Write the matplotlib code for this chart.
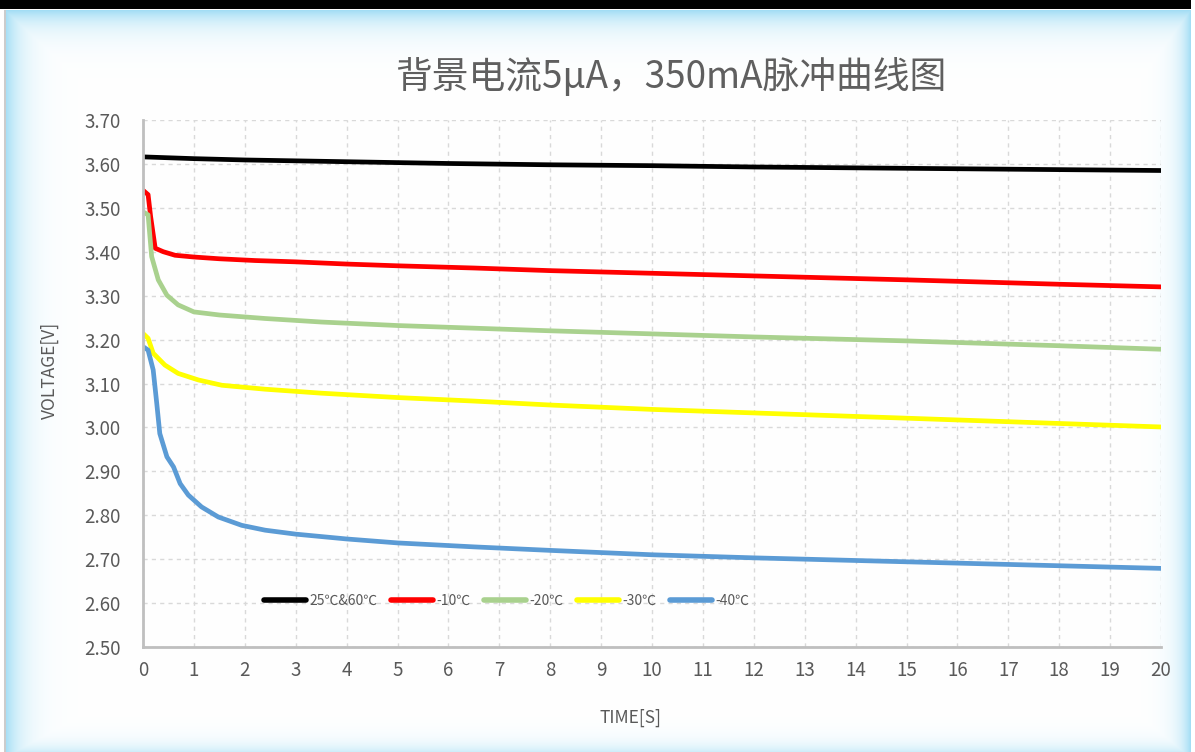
import numpy as np
import matplotlib
matplotlib.use("Agg")
import matplotlib.pyplot as plt

plt.rcParams['font.family'] = ['Noto Sans CJK SC', 'DejaVu Sans']

title = "背景电流5μA，350mA脉冲曲线图"
xlabel = "TIME[S]"
ylabel = "VOLTAGE[V]"

labels = ["25℃&60℃", "-10℃", "-20℃", "-30℃", "-40℃"]
colors = ["#000000", "#ff0000", "#a9d18e", "#ffff00", "#5b9bd5"]

t_black = [0, 1, 2, 4, 6, 8, 10, 12, 15, 18, 20]
v_black = [3.616, 3.612, 3.609, 3.605, 3.601, 3.598, 3.596, 3.593, 3.590, 3.587, 3.585]

t_red = [0, 0.1, 0.15, 0.24, 0.4, 0.63, 1, 1.5, 2.2, 3, 4, 5, 6.5, 8, 10, 12, 15, 18, 20]
v_red = [3.540, 3.530, 3.480, 3.408, 3.400, 3.392, 3.388, 3.384, 3.380, 3.377, 3.372,
         3.368, 3.363, 3.357, 3.351, 3.345, 3.336, 3.326, 3.320]

t_green = [0, 0.1, 0.17, 0.3, 0.47, 0.69, 1.0, 1.5, 2.4, 3.5, 5, 6.5, 8, 10, 12, 15, 18, 20]
v_green = [3.491, 3.484, 3.389, 3.336, 3.301, 3.279, 3.263, 3.256, 3.248, 3.240, 3.232,
           3.226, 3.220, 3.213, 3.206, 3.197, 3.186, 3.178]

t_yellow = [0, 0.1, 0.2, 0.43, 0.69, 1.09, 1.55, 2.4, 3.5, 5, 6.5, 8, 10, 12, 15, 18, 20]
v_yellow = [3.214, 3.203, 3.169, 3.142, 3.123, 3.108, 3.096, 3.087, 3.078, 3.068, 3.060,
            3.051, 3.041, 3.033, 3.021, 3.009, 3.001]

t_blue = [0, 0.1, 0.2, 0.27, 0.33, 0.47, 0.6, 0.73, 0.89, 1.15, 1.48, 1.94, 2.4, 3, 4, 5,
          6.5, 8, 10, 12, 15, 18, 20]
v_blue = [3.184, 3.176, 3.131, 3.055, 2.986, 2.933, 2.910, 2.872, 2.846, 2.819, 2.796,
          2.777, 2.766, 2.757, 2.746, 2.737, 2.728, 2.720, 2.710, 2.703, 2.694, 2.685, 2.679]

series_t = [t_black, t_red, t_green, t_yellow, t_blue]
series_v = [v_black, v_red, v_green, v_yellow, v_blue]

x_ticks = list(range(0, 21))
y_ticks = [2.50, 2.60, 2.70, 2.80, 2.90, 3.00, 3.10, 3.20, 3.30, 3.40, 3.50, 3.60, 3.70]

W, H = 1195, 752
fig = plt.figure(figsize=(W / 100, H / 100), dpi=100)

# background frame with light-blue glow
bg = fig.add_axes([0, 0, 1, 1], zorder=-10)
bg.axis('off')
yy, xx = np.mgrid[0:H, 0:W]
x0, x1, y0, y1 = 5, 1190, 10, 757
dl = (xx - x0) / 16.0
dr = (x1 - xx) / 11.0
dt = (yy - y0) / 15.0
db = (y1 - yy) / 9.0
d = np.minimum(np.minimum(dl, dr), np.minimum(dt, db))
a = np.exp(-np.clip(d, 0, None))
edge = np.array([0.64, 0.87, 0.96])
img = np.ones((H, W, 3))
img = img * (1 - a[..., None]) + edge * a[..., None]
inside = (xx >= x0) & (xx <= x1) & (yy >= y0)
img[~inside] = 1.0
img[(xx >= x0 - 1) & (xx <= x0) & (yy >= y0)] = [0.80, 0.80, 0.80]
img[0:9, 0:1191] = 0.0
bg.imshow(img, extent=[0, 1, 0, 1], aspect='auto', interpolation='bilinear')

ax = fig.add_axes([143 / W, 1 - 647 / H, (1161 - 143) / W, (647 - 120) / H])
ax.set_facecolor('none')

for t, v, c, lab in zip(series_t, series_v, colors, labels):
    ax.plot(t, v, color=c, lw=3.4, label=lab, solid_capstyle='round', solid_joinstyle='round')

ax.set_xlim(0, 20)
ax.set_ylim(2.50, 3.70)
ax.set_xticks(x_ticks)
ax.set_yticks(y_ticks)
ax.set_yticklabels([f"{v:.2f}" for v in y_ticks])
ax.tick_params(axis='both', length=0, labelsize=13.5, labelcolor='#595959')
ax.tick_params(axis='x', pad=9)
ax.tick_params(axis='y', pad=16)
ax.grid(True, color='#d9d9d9', ls=(0, (3, 3)), lw=1)
ax.set_axisbelow(True)
for s in ['top', 'right']:
    ax.spines[s].set_visible(False)
for s in ['left', 'bottom']:
    ax.spines[s].set_color('#bfbfbf')
    ax.spines[s].set_linewidth(2)

fig.text(631 / W, 1 - 718 / H, xlabel, ha='center', va='center', fontsize=12.5, color='#595959')
fig.text(50 / W, 1 - 370 / H, ylabel, ha='center', va='center', rotation=90, fontsize=12.5,
         color='#595959')
fig.text(671 / W, 1 - 77 / H, title, ha='center', va='center', fontsize=26.5, color='#5f5f5f')

leg = fig.legend(loc='center left', bbox_to_anchor=(264 / W, 1 - 601 / H), ncol=5,
                 frameon=False, fontsize=10, handlelength=3.0, handletextpad=0.25,
                 columnspacing=1.0, borderpad=0, borderaxespad=0)
for txt in leg.get_texts():
    txt.set_color('#595959')
for line in leg.get_lines():
    line.set_linewidth(4)
    line.set_solid_capstyle('round')

fig.savefig('out.png', dpi=100)
